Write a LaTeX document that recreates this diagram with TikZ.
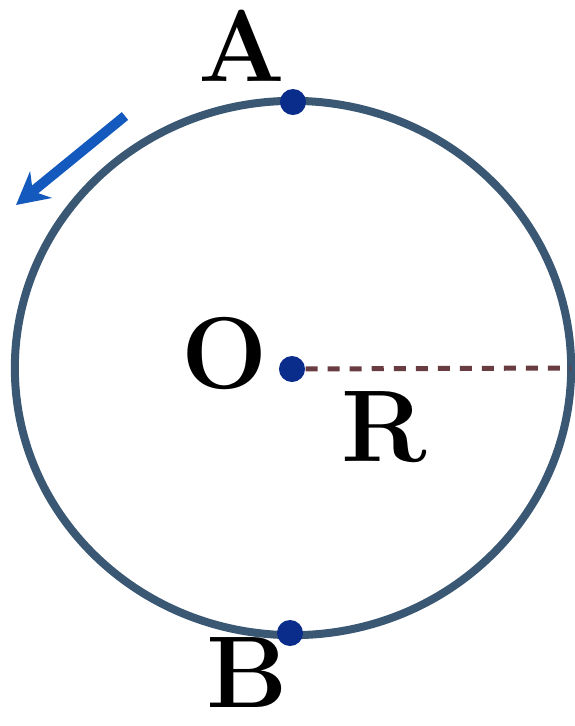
\documentclass[tikz,border=0pt]{standalone}
\usetikzlibrary{arrows.meta}

\definecolor{rimcol}{RGB}{58,88,115}
\definecolor{dotcol}{RGB}{10,45,140}
\definecolor{radcol}{RGB}{105,60,65}
\definecolor{arrcol}{RGB}{20,90,190}

\newcommand*{\cx}{293}
\newcommand*{\cy}{368}

\begin{document}
\begin{tikzpicture}
[
	x=0.01cm, y=-0.01cm,
	ptdot/.style={circle,fill=dotcol,inner sep=0pt,minimum size=0.26cm},
	lbl/.style={font=\fontsize{29}{33}\selectfont\rmfamily\bfseries,text=black,inner sep=0pt}
]

	\useasboundingbox (0,0) rectangle (575,726);

	% circle
	\draw[rimcol, line width=0.08cm] (\cx,\cy) ellipse [x radius=2.78cm, y radius=2.67cm];

	% points
	\node[ptdot] (O) at (292,369) {};
	\node[ptdot] (A) at (293,102) {};
	\node[ptdot] (B) at (290,633) {};
	\coordinate (Rend) at (571,368);

	% radius
	\draw[radcol, dashed, line width=0.05cm, dash pattern=on 0.12cm off 0.1cm] (O) -- (Rend);

	% labels
	\node[lbl] (labA) at (242,46) {A};
	\node[lbl] (labO) at (225,354) {O};
	\node[lbl] (labR) at (384,427) {R};
	\node[lbl] (labB) at (247,673) {B};

	% direction
	\coordinate (arrS) at (125,116);
	\coordinate (arrE) at (16,205);
	\draw[arrcol, line width=0.1cm, -{Stealth[length=0.32cm,width=0.34cm]}] (arrS) -- (arrE);

\end{tikzpicture}
\end{document}
